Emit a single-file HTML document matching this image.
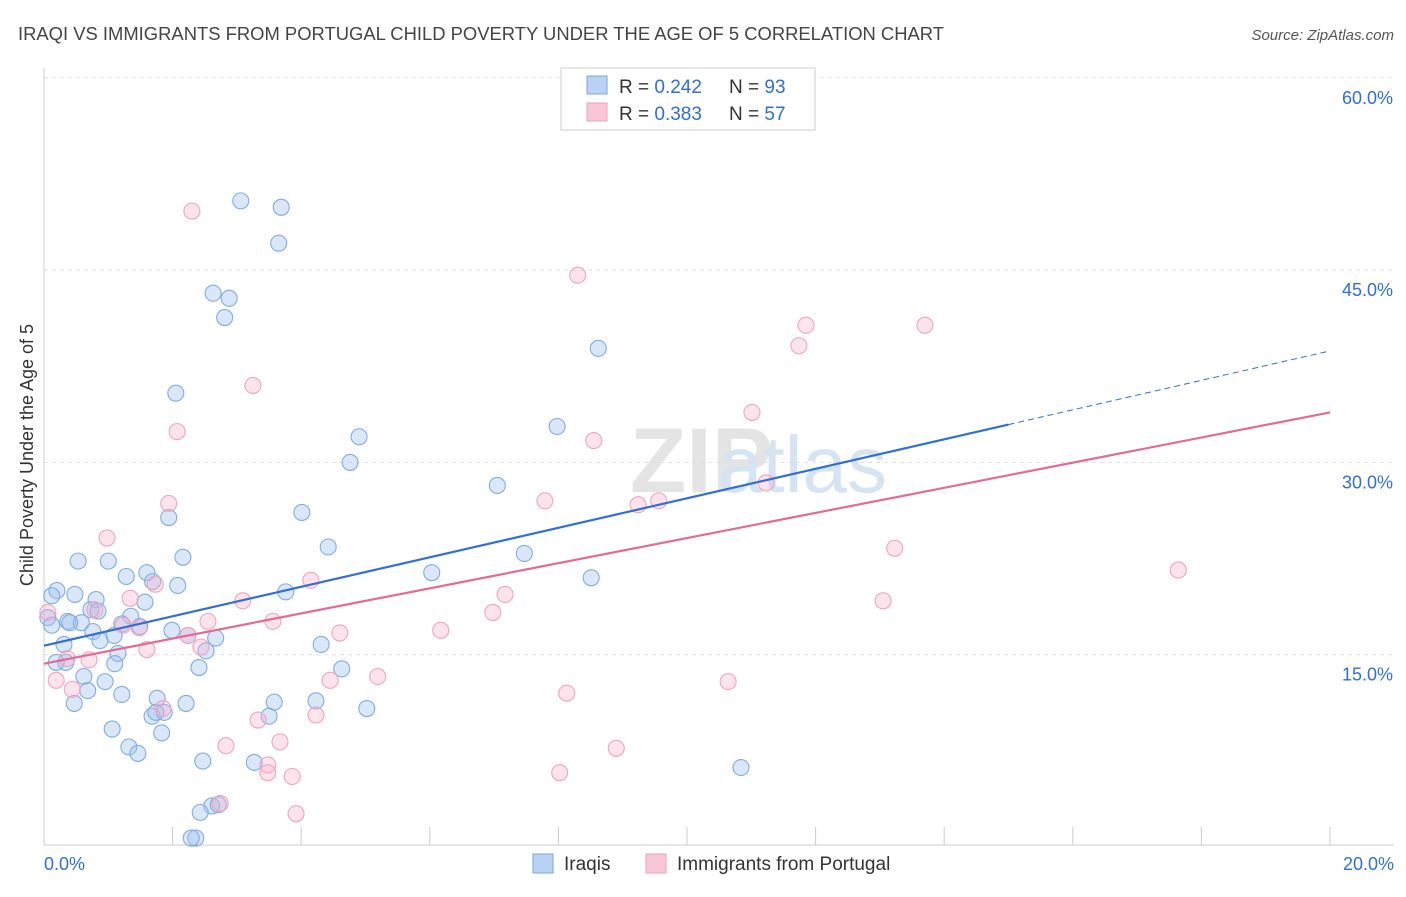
<!DOCTYPE html>
<html><head><meta charset="utf-8"><style>
body{margin:0;background:#fff;font-family:"Liberation Sans",sans-serif;}
svg text{font-family:"Liberation Sans",sans-serif;}
</style></head><body>
<svg id="chart" width="1406" height="892" viewBox="0 0 1406 892">
<text x="18" y="40" font-size="18" fill="#444" textLength="926" lengthAdjust="spacingAndGlyphs">IRAQI VS IMMIGRANTS FROM PORTUGAL CHILD POVERTY UNDER THE AGE OF 5 CORRELATION CHART</text>
<text x="1394" y="40" font-size="15" fill="#555" text-anchor="end" font-style="italic">Source: ZipAtlas.com</text>
<text x="33" y="455" font-size="18" fill="#333" text-anchor="middle" transform="rotate(-90 33 455)">Child Poverty Under the Age of 5</text>
<text x="630" y="492" font-size="92" fill="#e4e4e4" font-weight="bold">ZIP</text>
<text x="718" y="492" font-size="80" fill="#d5e3f3">atlas</text>
<g id="grid"></g><g id="pts"></g><g id="lines"></g>
<g>
<rect x="561" y="68" width="254" height="62" fill="#fff" stroke="#ccc"/>
<rect x="587" y="76" width="20" height="18" fill="#b9d2f3" stroke="#7aa7e0"/>
<rect x="587" y="103" width="20" height="18" fill="#f8c6d6" stroke="#eea0ba"/>
<text x="619" y="93" font-size="19" fill="#333">R = <tspan fill="#2f6fd6">0.242</tspan></text>
<text x="729" y="93" font-size="19" fill="#333">N = <tspan fill="#2f6fd6">93</tspan></text>
<text x="619" y="120" font-size="19" fill="#333">R = <tspan fill="#2f6fd6">0.383</tspan></text>
<text x="729" y="120" font-size="19" fill="#333">N = <tspan fill="#2f6fd6">57</tspan></text>
</g>
<g>
<rect x="533" y="854" width="20" height="19" fill="#b9d2f3" stroke="#7aa7e0"/>
<text x="564" y="870" font-size="19" fill="#333">Iraqis</text>
<rect x="646" y="854" width="20" height="19" fill="#f8c6d6" stroke="#eea0ba"/>
<text x="677" y="870" font-size="19" fill="#333">Immigrants from Portugal</text>
</g>
<text x="44" y="870" font-size="18" fill="#2f6fd6">0.0%</text>
<text x="1394" y="870" font-size="18" fill="#2f6fd6" text-anchor="end">20.0%</text>
</svg>
<script>
const yTicks=[15,30,45,60];
const yTickLabels=["15.0%","30.0%","45.0%","60.0%"];
const xTicks=[0,2,4,6,8,10,12,14,16,18,20];
const blueX=[3.06,3.69,3.65,2.63,2.88,2.81,8.62,2.05,7.98,4.90,4.76,7.05,4.01,1.94,4.42,7.47,2.16,0.53,1.0,8.51,6.03,1.28,1.60,2.08,1.69,3.76,0.20,0.12,0.48,0.81,1.57,0.73,0.84,1.35,0.06,0.37,0.58,0.12,1.21,1.49,0.76,1.99,2.24,1.09,0.87,2.67,4.31,0.31,1.15,2.52,0.34,1.10,2.41,4.63,0.62,0.95,0.68,1.21,1.76,3.58,4.23,2.21,0.47,5.02,1.68,1.87,3.50,1.06,1.83,1.32,1.46,2.47,3.27,10.84,2.61,2.71,2.43,2.36,2.29,0.4,0.19,1.74];
const blueY=[50.4,49.9,47.1,43.2,42.8,41.3,38.9,35.4,32.8,32.0,30.0,28.2,26.1,25.7,23.4,22.9,22.6,22.3,22.3,21.0,21.4,21.1,21.4,20.4,20.7,19.9,20.0,19.6,19.7,19.3,19.1,18.5,18.4,18.0,17.9,17.6,17.5,17.3,17.4,17.2,16.8,16.9,16.5,16.5,16.1,16.3,15.8,15.8,15.1,15.3,14.4,14.3,14.0,13.9,13.3,12.9,12.2,11.9,11.6,11.3,11.4,11.2,11.2,10.8,10.2,10.5,10.2,9.2,8.9,7.8,7.3,6.7,6.6,6.2,3.2,3.3,2.7,0.7,0.7,17.5,14.4,10.5];
const pinkX=[2.30,8.30,11.85,13.70,11.74,3.25,2.07,8.55,11.01,11.23,7.79,9.56,9.24,1.94,0.98,13.23,17.64,4.15,1.73,7.17,3.09,13.05,1.34,6.98,0.79,0.06,2.55,3.56,1.23,1.48,6.17,4.60,2.24,1.60,2.44,0.36,0.70,5.19,4.45,0.19,10.64,0.44,8.13,1.85,4.23,3.33,2.83,3.67,8.90,3.48,3.48,8.02,3.86,2.74,3.92];
const pinkY=[49.6,44.6,40.7,40.7,39.1,36.0,32.4,31.7,33.9,28.4,27.0,27.0,26.7,26.8,24.1,23.3,21.6,20.8,20.5,19.7,19.2,19.2,19.4,18.3,18.5,18.3,17.6,17.6,17.3,17.1,16.9,16.7,16.5,15.4,15.6,14.7,14.6,13.3,13.0,13.0,12.9,12.3,12.0,10.8,10.3,9.9,7.9,8.2,7.7,6.4,5.8,5.8,5.5,3.4,2.6];
const blueTrend=[15.7,38.7];
const pinkTrend=[14.3,33.9];
const NS="http://www.w3.org/2000/svg";
const X=v=>44+v*64.3, Y=v=>847-v*12.82;
function mk(t,a,p){const e=document.createElementNS(NS,t);for(const k in a)e.setAttribute(k,a[k]);p.appendChild(e);return e;}
const g=document.getElementById('grid');
yTicks.forEach((t,i)=>{
 const l=mk('line',{x1:44,x2:1394,y1:Y(t),y2:Y(t),stroke:'#ddd','stroke-dasharray':'4,4'},g);
 
 
 const tx=mk('text',{x:1393,y:Y(t)+26,'font-size':18,fill:'#2f6fd6','text-anchor':'end'},g);
 tx.textContent=yTickLabels[i];
 
 
});
const ax=mk('line',{x1:44,x2:1394,y1:845,y2:845,stroke:'#ccc'},g);


const ay=mk('line',{x1:44,x2:44,y1:68,y2:845,stroke:'#ccc'},g);


xTicks.forEach(t=>{
 const l=mk('line',{x1:X(t),x2:X(t),y1:827,y2:845,stroke:'#ccc'},g);
 
 
});
const p=document.getElementById('pts');
blueX.forEach((v,i)=>{
 const c=mk('circle',{cx:X(v),cy:Y(blueY[i]),r:8,fill:'rgba(160,196,240,0.4)',stroke:'#80ace2','stroke-width':1.1},p);
 
 
});
pinkX.forEach((v,i)=>{
 const c=mk('circle',{cx:X(v),cy:Y(pinkY[i]),r:8,fill:'rgba(245,175,200,0.35)',stroke:'#efa5bd','stroke-width':1.1},p);
 
 
});
const L=document.getElementById('lines');
const bs=blueTrend[0], bsl=(blueTrend[1]-blueTrend[0])/20;
const b1=mk('line',{x1:X(0),y1:Y(bs),x2:X(15),y2:Y(bs+bsl*15),stroke:'#2f6fd6','stroke-width':2.2},L);


const b2=mk('line',{x1:X(15),y1:Y(bs+bsl*15),x2:X(20),y2:Y(blueTrend[1]),stroke:'#2f6fd6','stroke-width':1,'stroke-dasharray':'6,4'},L);


const p1=mk('line',{x1:X(0),y1:Y(pinkTrend[0]),x2:X(20),y2:Y(pinkTrend[1]),stroke:'#e46a95','stroke-width':2.2},L);


</script>
</body></html>
